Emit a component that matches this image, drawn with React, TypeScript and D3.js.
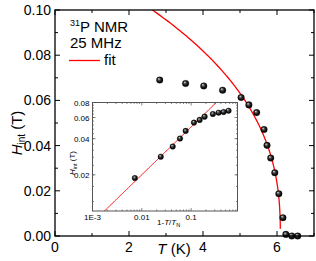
import React from "react";
import * as d3 from "d3";

// main panel: internal field vs temperature
const mainT = [2.83, 3.53, 4.02, 4.53, 5.03, 5.24, 5.45, 5.65, 5.73, 5.83, 5.94, 6.05, 6.16, 6.24, 6.4, 6.56];
const mainH = [0.069, 0.0675, 0.0664, 0.0645, 0.0613, 0.058, 0.0546, 0.0471, 0.0401, 0.0345, 0.028, 0.0187, 0.0081, 0.0007, 0, 0];

// inset: same data vs reduced temperature 1 - T/TN
const insetX = [0.00722, 0.0242, 0.0423, 0.0594, 0.0774, 0.114, 0.1486, 0.1875, 0.2757, 0.3597, 0.4539, 0.5727];
const insetH = [0.0188, 0.0283, 0.0344, 0.0401, 0.0464, 0.0544, 0.0573, 0.061, 0.0642, 0.0658, 0.0667, 0.0683];

// power-law fit H = A (1 - T/TN)^beta
const fitA = 0.1253;
const fitBeta = 0.398;
const fitTN = 6.09;

const xTicks = [0, 1, 2, 3, 4, 5, 6, 7];
const xLabels = [0, 2, 4, 6];
const yTicks = [0, 0.01, 0.02, 0.03, 0.04, 0.05, 0.06, 0.07, 0.08, 0.09, 0.1];
const yLabels = [0, 0.02, 0.04, 0.06, 0.08, 0.1];

const insetXLabels = ["1E-3", "0.01", "0.1"];
const insetXMajor = [0.001, 0.01, 0.1];
const insetYLabels = [0.02, 0.04, 0.06, 0.08];

const W = 316;
const H = 261;
const font = "Arial, 'Liberation Sans', sans-serif";

const fit = (t: number) => fitA * Math.pow(t, fitBeta);

export default function App() {
  const x = d3.scaleLinear().domain([0, 7]).range([55, 314]);
  const y = d3.scaleLinear().domain([0, 0.1]).range([236, 10]);

  const ix = d3.scaleLog().domain([0.001, 0.87]).range([92.5, 237.5]);
  const iy = d3.scaleLog().domain([0.01, 0.08]).range([211, 102.5]);

  // sample the fit on a log grid in t so it bends properly close to TN
  const tGrid = d3.range(-4, Math.log10(0.7), 0.01).map((k) => Math.pow(10, k));
  const mainCurve = d3
    .line<number>()
    .x((t) => x(fitTN * (1 - t)))
    .y((t) => y(fit(t)))(tGrid);
  const insetCurve = d3
    .line<number>()
    .x((t) => ix(t))
    .y((t) => iy(fit(t)))(tGrid.filter((t) => t >= 0.001));

  const [x0, x1] = x.range();
  const [y0, y1] = y.range();
  const [ix0, ix1] = ix.range();
  const [iy0, iy1] = iy.range();

  // log minor ticks for inset x
  const insetXMinor: number[] = [];
  [0.001, 0.01, 0.1].forEach((d) => {
    for (let k = 2; k <= 9; k++) if (d * k <= 0.87) insetXMinor.push(d * k);
  });
  const insetYMinor = d3.range(0.012, 0.08, 0.004);

  const ball = (cx: number, cy: number, r: number, key: string) => (
    <circle key={key} cx={cx} cy={cy} r={r} fill="url(#ball)" stroke="#000" strokeWidth={0.3} />
  );

  return (
    <svg width={W} height={H} style={{ position: "absolute", left: 0, top: 0 }} fontFamily={font}>
      <defs>
        <radialGradient id="ball" cx="50%" cy="50%" r="55%" fx="35%" fy="30%">
          <stop offset="0%" stopColor="#f4f4f4" />
          <stop offset="30%" stopColor="#555" />
          <stop offset="65%" stopColor="#111" />
          <stop offset="100%" stopColor="#000" />
        </radialGradient>
        <clipPath id="mainClip">
          <rect x={x0} y={y1} width={x1 - x0} height={y0 - y1} />
        </clipPath>
        <clipPath id="insetClip">
          <rect x={ix0} y={iy1} width={ix1 - ix0} height={iy0 - iy1} />
        </clipPath>
      </defs>

      {/* main fit curve */}
      <path d={mainCurve || ""} fill="none" stroke="#ff0000" strokeWidth={1.3} clipPath="url(#mainClip)" />

      {/* main data */}
      {mainT.map((t, i) => ball(x(t), y(mainH[i]), 3.3, "m" + i))}

      {/* main frame */}
      <rect x={x0} y={y1} width={x1 - x0} height={y0 - y1} fill="none" stroke="#000" strokeWidth={1.3} />
      {xTicks.map((t) => {
        const len = t % 2 === 0 ? 5 : 3;
        return (
          <g key={"xt" + t} stroke="#000" strokeWidth={1}>
            <line x1={x(t)} x2={x(t)} y1={y0} y2={y0 - len} />
            <line x1={x(t)} x2={x(t)} y1={y1} y2={y1 + len} />
          </g>
        );
      })}
      {yTicks.map((v, i) => {
        const len = i % 2 === 0 ? 5 : 3;
        return (
          <g key={"yt" + i} stroke="#000" strokeWidth={1}>
            <line x1={x0} x2={x0 + len} y1={y(v)} y2={y(v)} />
            <line x1={x1} x2={x1 - len} y1={y(v)} y2={y(v)} />
          </g>
        );
      })}
      {xLabels.map((t) => (
        <text key={"xl" + t} x={x(t)} y={252} fontSize={14} textAnchor="middle">
          {t}
        </text>
      ))}
      {yLabels.map((v) => (
        <text key={"yl" + v} x={x0 - 4} y={y(v) + 5} fontSize={14} textAnchor="end">
          {v.toFixed(2)}
        </text>
      ))}
      <text x={174} y={254} fontSize={15} textAnchor="middle">
        <tspan fontStyle="italic">T</tspan> (K)
      </text>
      <text transform="translate(22,133) rotate(-90)" fontSize={15} textAnchor="middle">
        <tspan fontStyle="italic">H</tspan>
        <tspan fontSize={10} dy={3}>int</tspan>
        <tspan dy={-3}> (T)</tspan>
      </text>

      {/* legend */}
      <text x={70} y={32} fontSize={15}>
        <tspan fontSize={9} dy={-6}>31</tspan>
        <tspan dy={6}>P NMR</tspan>
      </text>
      <text x={70} y={48} fontSize={15}>
        25 MHz
      </text>
      <line x1={69} x2={100} y1={60.5} y2={60.5} stroke="#ff0000" strokeWidth={1.3} />
      <text x={104} y={65} fontSize={15}>
        fit
      </text>

      {/* inset */}
      <rect x={ix0} y={iy1} width={ix1 - ix0} height={iy0 - iy1} fill="#fff" />
      <path d={insetCurve || ""} fill="none" stroke="#ff0000" strokeWidth={1} clipPath="url(#insetClip)" />
      {insetX.map((t, i) => ball(ix(t), iy(insetH[i]), 2.8, "i" + i))}
      <rect x={ix0} y={iy1} width={ix1 - ix0} height={iy0 - iy1} fill="none" stroke="#555" strokeWidth={1} />
      {insetXMajor.concat(insetXMinor).map((t, i) => {
        const len = i < insetXMajor.length ? 3 : 1.5;
        return (
          <g key={"ixt" + i} stroke="#555" strokeWidth={0.7}>
            <line x1={ix(t)} x2={ix(t)} y1={iy0} y2={iy0 - len} />
            <line x1={ix(t)} x2={ix(t)} y1={iy1} y2={iy1 + len} />
          </g>
        );
      })}
      {insetYLabels.concat(insetYMinor).map((v, i) => {
        const len = i < insetYLabels.length ? 3 : 1.5;
        return (
          <g key={"iyt" + i} stroke="#555" strokeWidth={0.7}>
            <line x1={ix0} x2={ix0 + len} y1={iy(v)} y2={iy(v)} />
            <line x1={ix1} x2={ix1 - len} y1={iy(v)} y2={iy(v)} />
          </g>
        );
      })}
      {insetXMajor.map((t, i) => (
        <text key={"ixl" + i} x={ix(t)} y={220} fontSize={8} textAnchor="middle">
          {insetXLabels[i]}
        </text>
      ))}
      {insetYLabels.map((v) => (
        <text key={"iyl" + v} x={ix0 - 3} y={iy(v) + 3} fontSize={8} textAnchor="end">
          {v.toFixed(2)}
        </text>
      ))}
      <text x={157} y={225} fontSize={8}>
        1-<tspan fontStyle="italic">T</tspan>/<tspan fontStyle="italic">T</tspan>
        <tspan fontSize={5.5} dy={2}>N</tspan>
      </text>
      <text transform="translate(75,163) rotate(-90)" fontSize={8} textAnchor="middle">
        <tspan fontStyle="italic">H</tspan>
        <tspan fontSize={5.5} dy={2}>int</tspan>
        <tspan dy={-2}> (T)</tspan>
      </text>
    </svg>
  );
}
